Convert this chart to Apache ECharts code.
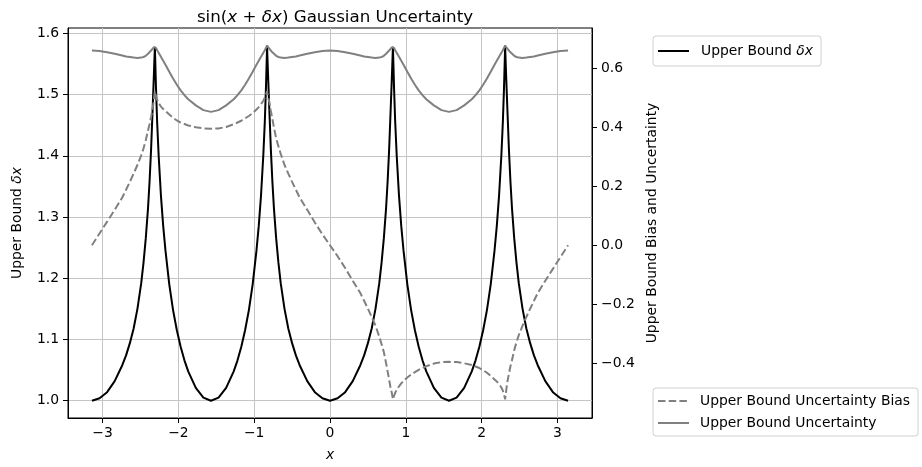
<!DOCTYPE html>
<html>
<head>
<meta charset="utf-8">
<script src="https://cdn.jsdelivr.net/npm/echarts@6/dist/echarts.min.js"></script>
<style>
html,body{margin:0;padding:0;background:#fff;}
#chart{width:922px;height:467px;}
</style>
</head>
<body>
<div id="chart"></div>
<script>
// ---- data ----
const xValues = [
  -3.14,-3.04,-2.94,-2.84,-2.74,-2.69,-2.64,-2.59,-2.54,-2.49,-2.46,-2.43,-2.40,-2.38,-2.36,-2.34,-2.325,-2.31,
  -2.295,-2.28,-2.26,-2.23,-2.20,-2.17,-2.12,-2.07,-2.02,-1.97,-1.92,-1.87,-1.77,-1.67,-1.57,
  -1.47,-1.37,-1.27,-1.22,-1.17,-1.12,-1.07,-1.02,-0.97,-0.94,-0.91,-0.88,-0.86,-0.845,-0.83,
  -0.815,-0.80,-0.78,-0.76,-0.74,-0.71,-0.68,-0.65,-0.60,-0.55,-0.50,-0.45,-0.40,-0.30,-0.20,-0.10,0,
  0.10,0.20,0.30,0.40,0.45,0.50,0.55,0.60,0.65,0.68,0.71,0.74,0.76,0.78,0.80,0.815,
  0.83,0.845,0.86,0.88,0.91,0.94,0.97,1.02,1.07,1.12,1.17,1.22,1.27,1.37,1.47,
  1.57,1.67,1.77,1.87,1.92,1.97,2.02,2.07,2.12,2.17,2.20,2.23,2.26,2.28,2.295,
  2.31,2.325,2.34,2.36,2.38,2.40,2.43,2.46,2.49,2.54,2.59,2.64,2.69,2.74,2.84,2.94,3.04,3.14
];
const upperBoundDx = [
  1.000,1.004,1.014,1.032,1.058,1.074,1.094,1.118,1.150,1.192,1.225,1.265,1.315,1.358,1.41,1.475,1.525,1.578,
  1.51,1.455,1.40,1.335,1.285,1.245,1.19,1.148,1.115,1.088,1.066,1.048,1.021,1.005,1.000,
  1.005,1.021,1.048,1.066,1.088,1.115,1.148,1.19,1.245,1.285,1.335,1.40,1.455,1.51,1.578,
  1.525,1.475,1.41,1.358,1.315,1.265,1.225,1.192,1.150,1.118,1.094,1.074,1.058,1.032,1.014,1.004,1.000,
  1.004,1.014,1.032,1.058,1.074,1.094,1.118,1.150,1.192,1.225,1.265,1.315,1.358,1.41,1.475,1.525,
  1.578,1.51,1.455,1.40,1.335,1.285,1.245,1.19,1.148,1.115,1.088,1.066,1.048,1.021,1.005,
  1.000,1.005,1.021,1.048,1.066,1.088,1.115,1.148,1.19,1.245,1.285,1.335,1.40,1.455,1.51,
  1.578,1.525,1.475,1.41,1.358,1.315,1.265,1.225,1.192,1.150,1.118,1.094,1.074,1.058,1.032,1.014,1.004,1.000
];
const uncertaintyBias = [
  0.000,0.040,0.080,0.120,0.162,0.188,0.215,0.243,0.272,0.305,0.328,0.356,0.390,0.410,0.435,0.462,0.490,0.522,
  0.505,0.493,0.482,0.470,0.462,0.455,0.443,0.432,0.423,0.416,0.411,0.406,0.400,0.396,0.395,
  0.396,0.401,0.410,0.416,0.422,0.430,0.438,0.448,0.460,0.468,0.478,0.490,0.500,0.510,0.522,
  0.500,0.485,0.455,0.428,0.400,0.362,0.335,0.310,0.272,0.243,0.215,0.188,0.162,0.120,0.077,0.037,0.000,
  -0.037,-0.077,-0.120,-0.162,-0.188,-0.215,-0.243,-0.272,-0.310,-0.335,-0.362,-0.400,-0.428,-0.455,-0.485,-0.500,
  -0.522,-0.510,-0.500,-0.490,-0.478,-0.468,-0.460,-0.448,-0.438,-0.430,-0.422,-0.416,-0.410,-0.401,-0.396,
  -0.395,-0.396,-0.400,-0.406,-0.411,-0.416,-0.423,-0.432,-0.443,-0.455,-0.462,-0.470,-0.482,-0.493,-0.505,
  -0.522,-0.490,-0.462,-0.435,-0.410,-0.390,-0.356,-0.328,-0.305,-0.272,-0.243,-0.215,-0.188,-0.162,-0.120,-0.080,-0.040,0.000
];
const uncertainty = [
  0.660,0.658,0.654,0.649,0.643,0.640,0.638,0.636,0.635,0.636,0.638,0.642,0.649,0.654,0.660,0.666,0.671,0.677,
  0.669,0.661,0.652,0.639,0.625,0.612,0.588,0.565,0.544,0.525,0.509,0.495,0.474,0.458,0.452,
  0.458,0.474,0.495,0.509,0.525,0.544,0.565,0.588,0.612,0.625,0.639,0.652,0.661,0.669,0.677,
  0.671,0.666,0.660,0.654,0.649,0.642,0.638,0.636,0.635,0.636,0.638,0.640,0.643,0.649,0.654,0.658,0.660,
  0.658,0.654,0.649,0.643,0.640,0.638,0.636,0.635,0.636,0.638,0.642,0.649,0.654,0.660,0.666,0.671,
  0.677,0.669,0.661,0.652,0.639,0.625,0.612,0.588,0.565,0.544,0.525,0.509,0.495,0.474,0.458,
  0.452,0.458,0.474,0.495,0.509,0.525,0.544,0.565,0.588,0.612,0.625,0.639,0.652,0.661,0.669,
  0.677,0.671,0.666,0.660,0.654,0.649,0.642,0.638,0.636,0.635,0.636,0.638,0.640,0.643,0.649,0.654,0.658,0.660
];
const xTicks = [-3,-2,-1,0,1,2,3];
const leftTicks = [1.0,1.1,1.2,1.3,1.4,1.5,1.6];
const rightTicks = [-0.4,-0.2,0.0,0.2,0.4,0.6];
const seriesNames = ['Upper Bound δx','Upper Bound Uncertainty Bias','Upper Bound Uncertainty'];

// ---- chart ----
const FONT = 'DejaVu Sans';
const GRIDC = '#c4c4c4';
const pairs = ys => xValues.map((x, i) => [x, ys[i]]);
const minus = s => s.replace('-', '\u2212');
const ital = {fontStyle: 'italic', fontFamily: FONT, fontSize: 13.9, color: '#000'};
const legendBase = {
  itemWidth: 31, itemHeight: 14,
  borderColor: '#d0d0d0', borderWidth: 1, borderRadius: 3,
  backgroundColor: 'rgba(255,255,255,0.8)',
  itemStyle: {opacity: 0, borderWidth: 0}
};

const chart = echarts.init(document.getElementById('chart'), null, {renderer: 'canvas'});
chart.setOption({
  animation: false,
  backgroundColor: '#fff',
  textStyle: {fontFamily: FONT},
  title: {
    text: 'sin({i|x} + {i|δx}) Gaussian Uncertainty',
    left: 330, top: 4, textAlign: 'center',
    textStyle: {
      fontFamily: FONT, fontSize: 16.7, fontWeight: 'normal', color: '#000',
      rich: {i: {fontStyle: 'italic', fontFamily: FONT, fontSize: 16.7, color: '#000'}}
    }
  },
  grid: {left: 68, right: 330, top: 28, bottom: 48, show: true, borderColor: '#000', borderWidth: 1, containLabel: false},
  legend: [
    Object.assign({}, legendBase, {
      data: [seriesNames[0]],
      left: 653, top: 36,
      padding: [8, 8, 8, 4],
      formatter: n => n === seriesNames[0] ? 'Upper Bound {i|δx}' : n,
      textStyle: {fontFamily: FONT, fontSize: 13.9, color: '#000', padding: [0, 0, 0, 7], rich: {i: ital}}
    }),
    Object.assign({}, legendBase, {
      data: [seriesNames[1], seriesNames[2]],
      left: 653, top: 388, orient: 'vertical', itemGap: 8,
      padding: [6, 8, 6, 4],
      textStyle: {fontFamily: FONT, fontSize: 13.9, color: '#000', padding: [0, 0, 0, 6]}
    })
  ],
  xAxis: {
    type: 'value', min: -3.4558, max: 3.4558,
    name: 'x', nameLocation: 'middle', nameGap: 30,
    nameTextStyle: {fontFamily: FONT, fontSize: 13.9, fontStyle: 'italic', color: '#000'},
    axisLine: {show: true, onZero: false, lineStyle: {color: '#000', width: 1}},
    axisTick: {show: true, length: 5, customValues: xTicks, lineStyle: {color: '#000'}},
    axisLabel: {customValues: xTicks, margin: 8, fontFamily: FONT, fontSize: 13.9, color: '#000', formatter: v => minus(String(v))},
    splitLine: {show: true, lineStyle: {color: GRIDC, width: 1}}
  },
  yAxis: [
    {
      type: 'value', min: 0.9718, max: 1.6086, position: 'left',
      name: 'Upper Bound {i|δx}', nameLocation: 'middle', nameGap: 44, nameRotate: 90,
      nameTextStyle: {fontFamily: FONT, fontSize: 13.9, color: '#000', rich: {i: ital}},
      axisLine: {show: true, onZero: false, lineStyle: {color: '#000', width: 1}},
      axisTick: {show: true, length: 5, customValues: leftTicks, lineStyle: {color: '#000'}},
      axisLabel: {customValues: leftTicks, margin: 9, fontFamily: FONT, fontSize: 13.9, color: '#000', formatter: v => v.toFixed(1)},
      splitLine: {show: true, lineStyle: {color: GRIDC, width: 1}}
    },
    {
      type: 'value', min: -0.5854, max: 0.7363, position: 'right',
      name: 'Upper Bound Bias and Uncertainty', nameLocation: 'middle', nameGap: 52, nameRotate: 90,
      nameTextStyle: {fontFamily: FONT, fontSize: 13.9, color: '#000'},
      axisLine: {show: true, onZero: false, lineStyle: {color: '#000', width: 1}},
      axisTick: {show: true, length: 5, customValues: rightTicks, lineStyle: {color: '#000'}},
      axisLabel: {customValues: rightTicks, margin: 9, fontFamily: FONT, fontSize: 13.9, color: '#000', formatter: v => minus(v.toFixed(1))},
      splitLine: {show: false}
    }
  ],
  series: [
    {
      name: seriesNames[0], type: 'line', yAxisIndex: 0, data: pairs(upperBoundDx),
      symbol: 'none', lineStyle: {color: '#000', width: 2}, itemStyle: {color: '#000'}, z: 2
    },
    {
      name: seriesNames[1], type: 'line', yAxisIndex: 1, data: pairs(uncertaintyBias),
      symbol: 'none', lineStyle: {color: '#808080', width: 2, type: [7.5, 3.2]}, itemStyle: {color: '#808080'}, z: 3
    },
    {
      name: seriesNames[2], type: 'line', yAxisIndex: 1, data: pairs(uncertainty),
      symbol: 'none', lineStyle: {color: '#808080', width: 2}, itemStyle: {color: '#808080'}, z: 3
    }
  ]
});
</script>
</body>
</html>
